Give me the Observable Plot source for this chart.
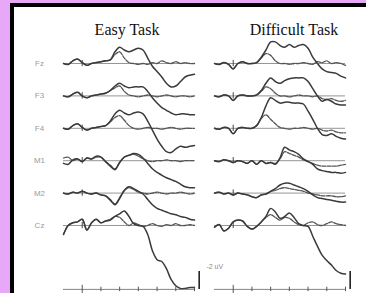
<!DOCTYPE html>
<html><head><meta charset="utf-8">
<script src="https://cdn.jsdelivr.net/npm/d3@7"></script>
<script src="https://cdn.jsdelivr.net/npm/@observablehq/plot@0.6"></script>
<style>
html,body{margin:0;padding:0;width:366px;height:293px;overflow:hidden;background:#e8a8f8;}
#frame{position:absolute;left:10px;top:3px;width:400px;height:330px;background:#fff;border-left:4px solid #000;border-top:4px solid #000;}
#chart{position:absolute;left:0;top:0;}
</style></head><body><div id="frame"></div><div id="chart"></div>
<script>
// ---- data (µV, negative plotted upward) ----
const tasks = ["Easy Task", "Difficult Task"];
const channels = ["Fz", "F3", "F4", "M1", "M2", "Cz"];
const times = [-100,-75,-50,-25,0,25,50,75,100,125,150,175,200,225,250,275,300,325,350,375,400,425,450,475,500,525,550,575,600];
const tickTimes = [0,100,200,300,400,500,600];
const scaleLabel = "-2 uV";
const scaleBarUV = 2;

const easyFzA = [0,0.1,-0.3,-0.5,-0.1,0.2,0,-0.1,-0.2,-0.3,-0.4,-1.3,-1.8,-1.5,-1.3,-1.5,-1.7,-1.5,-0.6,0.3,0.9,1.5,2.2,2.6,2.5,2.0,1.5,1.3,1.2];
const easyFzB = [0,0.1,-0.3,-0.5,-0.1,0.2,0,-0.1,-0.2,-0.3,-0.4,-1.0,-1.3,-0.6,-0.1,0,0.1,0,0.1,-0.1,0,-0.3,-0.1,0,-0.2,0,-0.1,0,0];
const easyF3A = [0,0.1,-0.2,-0.4,0,0.2,0,-0.1,-0.2,-0.3,-0.6,-1.1,-1.4,-1.1,-0.9,-1.0,-1.0,-1.0,-0.5,0.2,0.8,1.3,1.6,1.9,2.1,2.0,2.0,2.1,2.1];
const easyF3B = [0,0.1,-0.2,-0.4,0,0.2,0,-0.1,-0.2,-0.3,-0.6,-0.9,-1.1,-0.5,-0.1,0,0.1,0,-0.1,0,0.1,0,-0.1,0,0.1,0,0,0.1,0];
const easyF4A = [0,0.1,-0.3,-0.5,-0.1,0.2,0,-0.1,-0.2,-0.3,-0.8,-1.6,-2.0,-1.7,-1.5,-1.7,-1.8,-1.6,-0.8,0.2,1.2,2.0,2.6,2.7,2.3,2.0,2.1,2.0,1.9];
const easyF4B = [0,0.1,-0.3,-0.5,-0.1,0.2,0,-0.1,-0.2,-0.3,-0.7,-1.2,-1.4,-0.9,-0.3,0,0.1,0,-0.1,0,0,0.1,0,-0.1,0,0.1,0,0,0];
const easyM1A = [0.3,0.4,-0.1,-0.2,0.1,-0.3,-0.2,-0.5,-0.4,0.1,0.6,1.0,0.2,-0.4,-0.6,-0.8,-0.7,-0.3,0.3,0.9,1.3,1.6,1.9,2.1,2.3,2.6,2.9,3.0,3.0];
const easyM1B = [-0.3,-0.4,0,-0.2,0.1,-0.3,-0.2,-0.4,-0.4,0.1,0.5,0.9,0.2,-0.4,-0.6,-0.7,-0.5,-0.2,0,0.1,0,0,-0.1,0,0,0.1,0,0,0];
const easyM2A = [0,0.1,-0.1,0,-0.2,0,0.1,0,0.2,0.3,0.8,1.3,0.6,-0.3,-0.7,-0.5,-0.2,0.1,0.7,1.3,1.7,1.9,2.1,2.3,2.4,2.6,2.7,2.9,3.0];
const easyM2B = [0,0.1,-0.1,0,-0.2,0,0.1,0,0.2,0.3,0.7,1.2,0.5,-0.3,-0.6,-0.4,-0.1,0,0.1,0,-0.1,0,0.1,0,0,-0.1,0,0.1,0];
const easyCzA = [1.0,0,-0.3,-0.4,-0.7,0.5,-0.3,-0.7,-0.3,-0.5,-0.6,-1.0,-1.3,-1.6,-1.0,-0.2,0,0.1,1.0,2.8,3.8,4.0,4.8,6.0,6.7,7.0,7.0,6.9,6.9];
const easyCzB = [1.0,0,-0.3,-0.4,-0.7,0.5,-0.3,-0.7,-0.3,-0.5,-0.7,-1.0,-0.9,-0.4,0,-0.3,-0.1,0.1,0,-0.2,0,0.1,-0.1,0,-0.2,0,0,-0.1,0];

const diffFzA = [0,0.1,-0.1,0.1,0.6,0,-0.2,0,0,-0.1,-0.7,-1.5,-2.4,-2.4,-2.0,-1.8,-2.1,-1.8,-2.0,-2.1,-1.7,-0.7,0,0.6,0.9,1.0,1.1,1.4,1.6];
const diffFzB = [0,0.1,-0.1,0.1,0.6,0,-0.2,0,0,-0.1,-0.6,-1.1,-0.9,-0.3,0,0,0.1,0,0,-0.1,0,0.1,-0.2,-0.1,-0.3,0,-0.1,0,0.2];
const diffF3A = [0,0.1,-0.1,0,0.5,0,-0.1,0,0,-0.1,-0.6,-1.4,-2.0,-1.6,-1.4,-1.7,-1.9,-2.0,-2.0,-2.0,-1.6,-0.8,0,0.6,0.4,0.6,0.9,1.0,1.0];
const diffF3B = [0,0.1,-0.1,0,0.5,0,-0.1,0,0,-0.1,-0.5,-1.0,-0.8,-0.3,0,0,0.1,0,-0.1,0,0,0.1,0,0.3,0.4,0.3,0.5,0.6,0.5];
const diffF4A = [0,0.1,-0.1,0,0.6,0,-0.1,0,0,-0.3,-1.2,-2.5,-3.4,-3.1,-2.8,-2.9,-2.9,-2.8,-2.8,-2.7,-1.9,-1.0,0,0.7,0.8,0.6,0.9,1.1,1.2];
const diffF4B = [0,0.1,-0.1,0,0.6,0,-0.1,0,0,-0.3,-1.1,-1.5,-1.0,-0.5,-0.1,0,0.1,0,0,-0.1,0,0.1,0,0.2,0.3,0.2,0.4,0.5,0.5];
const diffM1A = [0,0.1,-0.1,0,0.2,0,0.1,0.3,0,0.4,0,0.3,0.2,0.4,-0.3,-1.5,-1.2,-1.0,-0.7,-0.2,0.1,0.4,0.9,1.1,1.2,1.3,1.3,1.4,1.3];
const diffM1B = [0,0.1,-0.1,0,0.2,0,0.1,0.3,0,0.4,0,0.3,0.2,0.3,-0.2,-1.0,-0.8,-0.6,-0.4,-0.1,0.1,0.3,0.5,0.6,0.6,0.6,0.6,0.5,0.4];
const diffM2A = [0,-0.1,0.1,0,0.2,0,0.1,0.2,0.4,0.5,0.2,0.1,-0.2,-0.5,-0.9,-1.1,-1.1,-0.9,-0.7,-0.5,-0.2,0.2,0.5,0.6,0.7,0.8,0.9,1.0,1.0];
const diffM2B = [0,-0.1,0.1,0,0.2,0,0.1,0.2,0.4,0.5,0.2,0.1,-0.2,-0.3,-0.5,-0.6,-0.5,-0.4,-0.3,-0.2,0,0.1,0.2,0.3,0.3,0.3,0.4,0.4,0.3];
const diffCzA = [0.2,-0.1,0.6,0.3,-0.4,-0.6,-0.5,0.1,0.4,0.1,-0.4,-1.0,-1.9,-1.5,-0.8,-1.0,-1.4,-0.9,-0.2,0,0.1,1.2,2.3,3.3,3.9,4.4,5.0,5.3,5.4];
const diffCzB = [0.2,-0.1,0.6,0.3,-0.4,-0.6,-0.5,0.1,0.4,0.1,-0.4,-0.9,-1.2,-0.9,-0.6,-0.9,-0.8,-0.4,-0.1,0,-0.3,-0.4,-0.1,0,-0.2,-0.4,-0.2,-0.1,0];

// ---- assemble ----
const series = {
  "Easy Task": {Fz:[easyFzA,easyFzB],F3:[easyF3A,easyF3B],F4:[easyF4A,easyF4B],M1:[easyM1A,easyM1B],M2:[easyM2A,easyM2B],Cz:[easyCzA,easyCzB]},
  "Difficult Task": {Fz:[diffFzA,diffFzB],F3:[diffF3A,diffF3B],F4:[diffF4A,diffF4B],M1:[diffM1A,diffM1B],M2:[diffM2A,diffM2B],Cz:[diffCzA,diffCzB]}
};
const rowGap = 3.6;          // µV between stacked channels
const axisLevel = 25.1;      // stacked position of time axis
const t0 = times[0], t1 = times[times.length - 1];
const barTime = 625;

const points = [];
const rowsInfo = [];
tasks.forEach(task => channels.forEach((ch, i) => {
  rowsInfo.push({task, ch, off: i * rowGap});
  ["A", "B"].forEach((c, k) => {
    series[task][ch][k].forEach((v, j) => points.push({task, ch, cond: c, key: task + ch + c, t: times[j], y: v + i * rowGap}));
  });
}));
const czOff = (channels.length - 1) * rowGap;
const ticks = [];
tasks.forEach(task => tickTimes.forEach(t => ticks.push({task, t, h: t === 0 ? 0.45 : 0.25})));

const chart = Plot.plot({
  width: 366, height: 293,
  marginLeft: 63, marginRight: 21, marginTop: 0, marginBottom: 0,
  style: {background: "transparent", overflow: "visible"},
  fx: {domain: tasks, paddingInner: 0.1325, paddingOuter: 0, axis: null},
  x: {domain: [t0, t1], axis: null},
  y: {domain: [-7, 25.556], reverse: true, axis: null},
  marks: [
    Plot.ruleY(rowsInfo, {fx: "task", y: "off", x1: () => t0, x2: () => t1, stroke: "#8a8a8a", strokeWidth: 0.9}),
    Plot.ruleX(rowsInfo, {fx: "task", x: () => 0, y1: d => d.off - 0.35, y2: d => d.off + 0.35, stroke: "#444", strokeWidth: 1}),
    Plot.line(points.filter(d => d.cond === "B"), {fx: "task", x: "t", y: "y", z: "key", stroke: "#555", strokeWidth: 1.3, strokeDasharray: "4,1.3", curve: "catmull-rom"}),
    Plot.line(points.filter(d => d.cond === "A"), {fx: "task", x: "t", y: "y", z: "key", stroke: "#3a3a3a", strokeWidth: 1.5, curve: "catmull-rom"}),
    Plot.ruleY(tasks, {fx: d => d, y: () => axisLevel, x1: () => t0, x2: () => t1, stroke: "#777", strokeWidth: 0.9}),
    Plot.ruleX(ticks, {fx: "task", x: "t", y1: d => axisLevel - d.h, y2: d => axisLevel + d.h, stroke: "#555", strokeWidth: 1}),
    Plot.ruleX(tasks, {fx: d => d, x: () => barTime, y1: () => axisLevel - scaleBarUV, y2: () => axisLevel, stroke: "#222", strokeWidth: 1.6}),
    Plot.text(rowsInfo.filter(d => d.task === tasks[0]), {fx: "task", y: "off", text: "ch", frameAnchor: "left", dx: -24, textAnchor: "middle", fill: "#9a9a9a", fontSize: 8, fontFamily: "Liberation Sans, Arial, sans-serif"}),
    Plot.text([tasks[0]], {fx: d => d, text: d => d, frameAnchor: "top", dx: -2, dy: 34, lineAnchor: "bottom", fontSize: 16, fontFamily: "Liberation Serif, Times New Roman, serif", fill: "#111"}),
    Plot.text([tasks[1]], {fx: d => d, text: d => d, frameAnchor: "top", dx: 14, dy: 34, lineAnchor: "bottom", fontSize: 16, fontFamily: "Liberation Serif, Times New Roman, serif", fill: "#111"}),
    Plot.text([tasks[1]], {fx: d => d, x: () => -143, y: () => czOff + 4.6, text: () => scaleLabel, textAnchor: "start", fill: "#8a8a8a", fontSize: 7, fontFamily: "Liberation Sans, Arial, sans-serif"})
  ]
});
document.getElementById("chart").appendChild(chart);
</script></body></html>
